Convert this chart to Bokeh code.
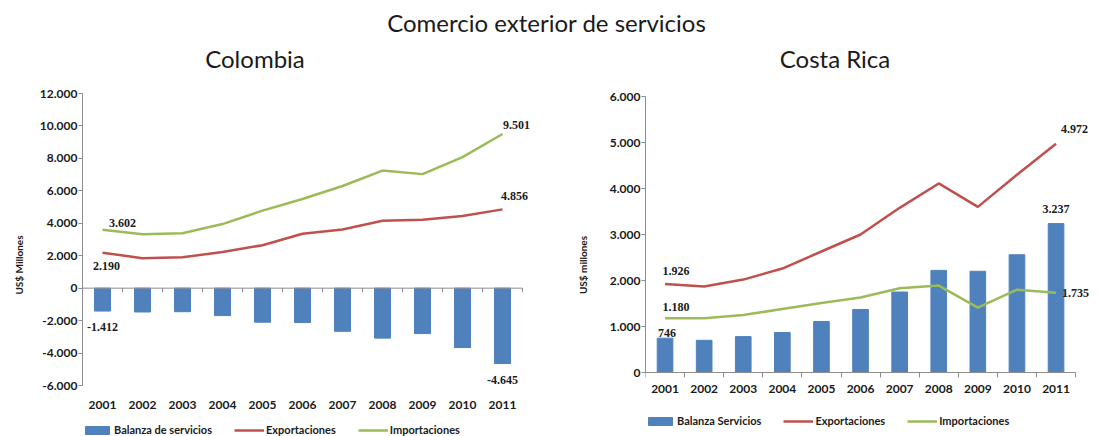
from bokeh.plotting import figure
from bokeh.models import (ColumnDataSource, Range1d, FixedTicker, Legend,
                          LegendItem, LabelSet, Div, Spacer)
from bokeh.layouts import row, column
from bokeh.embed import file_html
from bokeh.resources import INLINE

# ---------------- data ----------------
years = [str(y) for y in range(2001, 2012)]

col_balanza = [-1412, -1470, -1450, -1690, -2100, -2120, -2660, -3080, -2800, -3660, -4645]
col_export = [2190, 1850, 1900, 2230, 2650, 3350, 3620, 4150, 4220, 4450, 4856]
col_import = [3602, 3330, 3380, 3950, 4780, 5500, 6300, 7250, 7030, 8080, 9501]

cr_balanza = [746, 700, 780, 870, 1110, 1370, 1750, 2220, 2200, 2560, 3237]
cr_export = [1926, 1870, 2020, 2260, 2630, 3000, 3580, 4110, 3600, 4300, 4972]
cr_import = [1180, 1180, 1250, 1380, 1510, 1630, 1830, 1890, 1410, 1800, 1735]

col_ticks = [-6000, -4000, -2000, 0, 2000, 4000, 6000, 8000, 10000, 12000]
col_tick_labels = ["-6.000", "-4.000", "-2.000", "0", "2.000", "4.000", "6.000", "8.000", "10.000", "12.000"]
cr_ticks = [0, 1000, 2000, 3000, 4000, 5000, 6000]
cr_tick_labels = ["0", "1.000", "2.000", "3.000", "4.000", "5.000", "6.000"]

main_title = "Comercio exterior de servicios"
col_title = "Colombia"
cr_title = "Costa Rica"
col_legend = ["Balanza de servicios", "Exportaciones", "Importaciones"]
cr_legend = ["Balanza Servicios", "Exportaciones", "Importaciones"]

BLUE = "#4F81BD"
RED = "#C0504D"
GREEN = "#9BBB59"
AXIS = "#8c8c8c"
TXT = "#1a1a1a"
FONT = "Lato"

idx = list(range(len(years)))
bounds = [i - 0.5 for i in idx] + [idx[-1] + 0.5]


def fmt(v):
    return f"{v:,}".replace(",", ".")


def make_chart(bal, exp, imp, ticks, tick_labels, ylabel, legend_names,
               frame_w, axis_h, frame_h, cat_px, top_pad_px, zero_axis,
               label_rows, x_standoff, y_standoff, legend_loc, tick_len):
    # axis_h: pixel height of the tick span; extra frame space below holds labels + legend
    src = ColumnDataSource(dict(x=idx, year=years, bal=bal, exp=exp, imp=imp))
    y0, y1 = ticks[0], ticks[-1]
    unit = (y1 - y0) / axis_h
    y_end = y1 + top_pad_px * unit
    y_start = y0 - (frame_h - axis_h - top_pad_px) * unit
    p = figure(x_range=Range1d(idx[0] - 0.5, idx[0] - 0.5 + frame_w / cat_px),
               y_range=Range1d(y_start, y_end),
               frame_width=frame_w, frame_height=frame_h,
               min_border=0, min_border_top=10,
               output_backend="svg", toolbar_location=None)
    p.xgrid.visible = False
    p.ygrid.visible = False
    p.outline_line_color = None
    p.background_fill_color = None
    p.border_fill_color = None

    bars = p.vbar(x="x", top="bal", width=0.4, source=src, color=BLUE)
    l_exp = p.line(x="x", y="exp", source=src, line_color=RED, line_width=2.5)
    l_imp = p.line(x="x", y="imp", source=src, line_color=GREEN, line_width=2.5)

    # y axis
    ya = p.yaxis[0]
    ya.ticker = FixedTicker(ticks=ticks)
    ya.major_label_overrides = {t: l for t, l in zip(ticks, tick_labels)}
    ya.major_label_text_font = FONT
    ya.major_label_text_font_style = "bold"
    ya.major_label_text_font_size = "12px"
    ya.major_label_text_color = TXT
    ya.major_label_standoff = 1
    ya.axis_line_color = AXIS
    ya.major_tick_line_color = AXIS
    ya.major_tick_out = 4
    ya.major_tick_in = 0
    ya.minor_tick_line_color = None
    ya.axis_label = ylabel
    ya.axis_label_text_font = FONT
    ya.axis_label_text_font_style = "bold"
    ya.axis_label_text_font_size = "10px"
    ya.axis_label_text_color = TXT
    ya.axis_label_standoff = y_standoff
    ya.bounds = (y0, y1)

    # x axis (years at category centres, hatch marks between categories)
    xa = p.xaxis[0]
    xa.ticker = FixedTicker(ticks=idx, minor_ticks=bounds)
    xa.major_label_overrides = {i: y for i, y in zip(idx, years)}
    xa.major_label_text_font = FONT
    xa.major_label_text_font_style = "bold"
    xa.major_label_text_font_size = "12px"
    xa.major_label_text_color = TXT
    xa.major_tick_line_color = None
    xa.major_tick_out = 0
    xa.major_tick_in = 0
    xa.major_label_standoff = x_standoff
    xa.bounds = (bounds[0], bounds[-1])
    if zero_axis:
        xa.fixed_location = y0
        xa.axis_line_color = None
        xa.minor_tick_line_color = None
        xa.minor_tick_out = 0
        xa.minor_tick_in = 0
        p.segment(x0=[bounds[0]], x1=[bounds[-1]], y0=[0], y1=[0], line_color=AXIS, line_width=1)
        p.segment(x0=bounds, x1=bounds, y0=[0] * len(bounds), y1=[-tick_len] * len(bounds),
                  line_color=AXIS, line_width=1)
    else:
        xa.fixed_location = y0
        xa.axis_line_color = AXIS
        xa.minor_tick_line_color = AXIS
        xa.minor_tick_out = 5
        xa.minor_tick_in = 0

    # data labels
    series = {"bal": bal, "exp": exp, "imp": imp}
    lab = ColumnDataSource(dict(
        x=[idx[r[0]] for r in label_rows],
        y=[series[r[1]][r[0]] for r in label_rows],
        text=[fmt(series[r[1]][r[0]]) for r in label_rows],
        dx=[r[2] for r in label_rows],
        dy=[r[3] for r in label_rows],
        al=[r[4] for r in label_rows],
    ))
    p.add_layout(LabelSet(x="x", y="y", text="text", source=lab, x_offset="dx", y_offset="dy",
                          text_align="al", text_baseline="middle",
                          text_font=FONT, text_font_style="bold", text_font_size="12px",
                          text_color=TXT))

    legend = Legend(items=[LegendItem(label=legend_names[0], renderers=[bars]),
                           LegendItem(label=legend_names[1], renderers=[l_exp]),
                           LegendItem(label=legend_names[2], renderers=[l_imp])],
                    orientation="horizontal", location=legend_loc,
                    glyph_width=30, glyph_height=10, label_standoff=2, spacing=22,
                    padding=0, margin=0, border_line_color=None,
                    background_fill_alpha=0,
                    label_text_font=FONT, label_text_font_style="bold",
                    label_text_font_size="11px", label_text_color=TXT,
                    label_height=12)
    p.add_layout(legend)
    return p


p1 = make_chart(col_balanza, col_export, col_import, col_ticks, col_tick_labels,
                "US$ Millones", col_legend,
                451, 292, 343, 40, 0, True,
                [(0, "imp", 20, 7, "center"), (0, "exp", 4, -13, "center"),
                 (0, "bal", 0, -16, "center"), (10, "imp", 14, 9, "center"),
                 (10, "exp", 12, 13, "center"), (10, "bal", 0, -16, "center")],
                15, 12, (0, 0), 250)

p2 = make_chart(cr_balanza, cr_export, cr_import, cr_ticks, cr_tick_labels,
                "US$ millones", cr_legend,
                446, 276, 343, 39.1, 3, False,
                [(0, "exp", 11, 13, "center"), (0, "imp", 11, 11, "center"),
                 (0, "bal", 2, 5, "center"), (10, "bal", 0, 15, "center"),
                 (10, "exp", 5, 15, "left"), (10, "imp", 6, 0, "left")],
                7, 18, (0, 9), 0)

span_style = (f"position:absolute;text-align:center;font-family:{FONT};"
              f"font-size:24px;line-height:28px;color:{TXT};white-space:nowrap")
head = Div(text=(f'<div style="position:relative;width:1083px;height:73px;overflow:hidden">'
                 f'<div style="{span_style};left:0px;top:4px;width:1083px">{main_title}</div>'
                 f'<div style="{span_style};left:0px;top:40px;width:500px">{col_title}</div>'
                 f'<div style="{span_style};left:580px;top:40px;width:500px">{cr_title}</div>'
                 f'</div>'),
           width=1083, height=73, styles={"overflow": "hidden"})

layout = column(head, row(Spacer(width=9, height=10), p1, Spacer(width=40, height=10), p2,
                          spacing=0), spacing=0)
open("out.html", "w").write(file_html(layout, INLINE))
